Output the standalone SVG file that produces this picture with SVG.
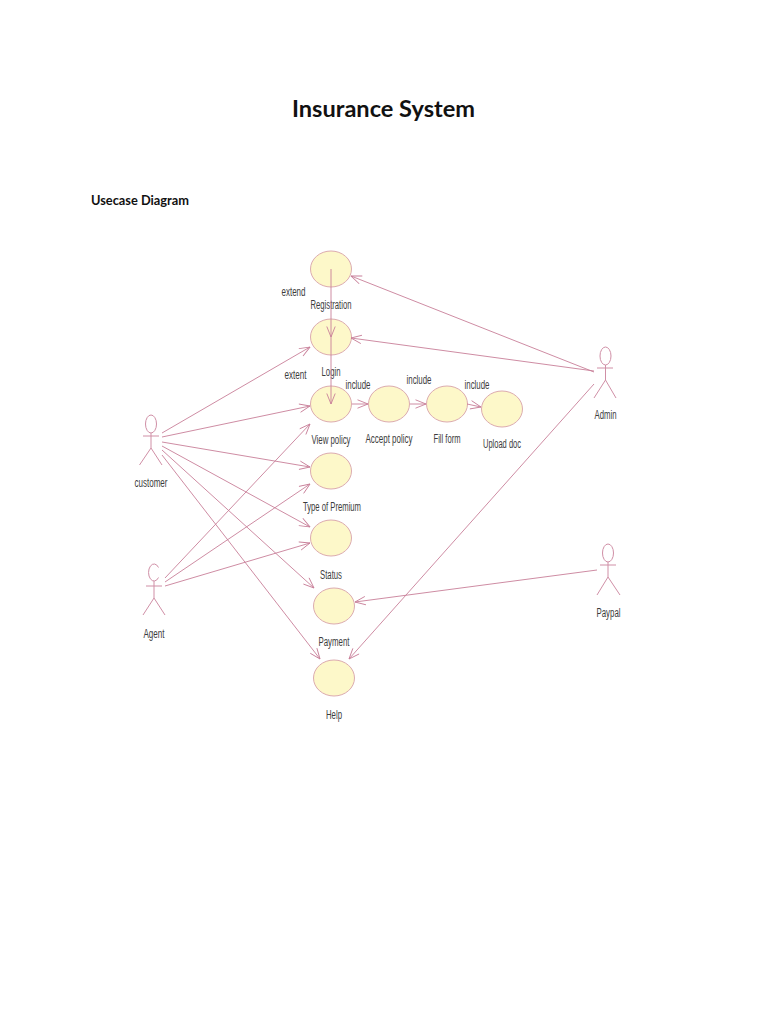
<svg xmlns="http://www.w3.org/2000/svg" width="768" height="1024" viewBox="0 0 768 1024">
<style>
.uc{fill:#fdf8c9;stroke:#dcabb0;stroke-width:1}
.c{fill:none;stroke:#c87f99;stroke-width:.9}
.a{fill:none;stroke:#d08fa6;stroke-width:1}
.l{font-family:"Liberation Sans",Arial,sans-serif;font-size:12px;fill:#3c3c3c;text-anchor:middle}
.h{font-family:Lato,"Noto Sans",sans-serif;font-weight:700;fill:#111}
</style>
<defs>
<marker id="o" viewBox="0 0 12 10" refX="11.5" refY="5" markerWidth="12" markerHeight="10" markerUnits="userSpaceOnUse" orient="auto"><path d="M1 .8L11.500 5L1 9.200" fill="none" stroke="#c87f99" stroke-width=".9"/></marker>
</defs>
<rect width="768" height="1024" fill="#fff"/>
<text class="h" x="292" y="117" font-size="23" textLength="183" lengthAdjust="spacingAndGlyphs">Insurance System</text>
<text class="h" x="91" y="205" font-size="13" textLength="98" lengthAdjust="spacingAndGlyphs">Usecase Diagram</text>
<g id="registration"><ellipse class="uc" cx="331" cy="269" rx="20.500" ry="18"/><text class="l" x="331" y="309" textLength="41" lengthAdjust="spacingAndGlyphs">Registration</text></g>
<g id="login"><ellipse class="uc" cx="331" cy="337" rx="20.500" ry="18"/><text class="l" x="331" y="376" textLength="19" lengthAdjust="spacingAndGlyphs">Login</text></g>
<g id="view-policy"><ellipse class="uc" cx="331" cy="404" rx="20.500" ry="18"/><text class="l" x="331" y="444" textLength="39" lengthAdjust="spacingAndGlyphs">View policy</text></g>
<g id="accept-policy"><ellipse class="uc" cx="389" cy="404" rx="20.500" ry="18"/><text class="l" x="389" y="443" textLength="47" lengthAdjust="spacingAndGlyphs">Accept policy</text></g>
<g id="fill-form"><ellipse class="uc" cx="447" cy="404" rx="20.500" ry="18"/><text class="l" x="447" y="443" textLength="27" lengthAdjust="spacingAndGlyphs">Fill form</text></g>
<g id="upload-doc"><ellipse class="uc" cx="502" cy="409" rx="20.500" ry="18"/><text class="l" x="502" y="448" textLength="38" lengthAdjust="spacingAndGlyphs">Upload doc</text></g>
<g id="type-of-premium"><ellipse class="uc" cx="331" cy="471" rx="20.500" ry="18"/><text class="l" x="332" y="511" textLength="58" lengthAdjust="spacingAndGlyphs">Type of Premium</text></g>
<g id="status"><ellipse class="uc" cx="331" cy="538" rx="20.500" ry="18"/><text class="l" x="331" y="579" textLength="22" lengthAdjust="spacingAndGlyphs">Status</text></g>
<g id="payment"><ellipse class="uc" cx="334" cy="606" rx="20.500" ry="18"/><text class="l" x="334" y="646" textLength="31" lengthAdjust="spacingAndGlyphs">Payment</text></g>
<g id="help"><ellipse class="uc" cx="334" cy="678" rx="20.500" ry="18"/><text class="l" x="334" y="719" textLength="16" lengthAdjust="spacingAndGlyphs">Help</text></g>
<g id="customer" class="a"><ellipse cx="151" cy="424" rx="5.500" ry="9"/><path d="M143 436H159M151 433V448L139.500 465M151 448L162 465"/><text class="l" x="151" y="487" textLength="33" lengthAdjust="spacingAndGlyphs" stroke="none">customer</text></g>
<g id="agent" class="a"><path d="M158.500 567.500A5.500 8.500 0 1 0 158.500 577.500M146 586H162M154 581V598L143 615M154 598L165 615"/><text class="l" x="154" y="638" textLength="21" lengthAdjust="spacingAndGlyphs" stroke="none">Agent</text></g>
<g id="admin" class="a"><ellipse cx="605.500" cy="356" rx="5.500" ry="9"/><path d="M597 368H613M605.500 365V380L594 398M605.500 380L616 398"/><text class="l" x="605.500" y="419" textLength="22" lengthAdjust="spacingAndGlyphs" stroke="none">Admin</text></g>
<g id="paypal" class="a"><ellipse cx="608" cy="553" rx="5.500" ry="9"/><path d="M600 565H616M608 562V577L597 595M608 577L620 595"/><text class="l" x="608.500" y="617" textLength="24" lengthAdjust="spacingAndGlyphs" stroke="none">Paypal</text></g>
<g id="connectors">
<path class="c" marker-end="url(#o)" d="M162 433L310 347"/>
<path class="c" marker-end="url(#o)" d="M162 437L310 406"/>
<path class="c" marker-end="url(#o)" d="M162 442L310 467"/>
<path class="c" marker-end="url(#o)" d="M162 446L310 527"/>
<path class="c" marker-end="url(#o)" d="M162 450L314 588"/>
<path class="c" marker-end="url(#o)" d="M162 455L320 659"/>
<path class="c" marker-end="url(#o)" d="M165 578L310 424"/>
<path class="c" marker-end="url(#o)" d="M165 582L310 484"/>
<path class="c" marker-end="url(#o)" d="M165 586L310 543"/>
<path class="c" marker-end="url(#o)" d="M594 372L351 276"/>
<path class="c" marker-end="url(#o)" d="M594 371L351 338"/>
<path class="c" marker-end="url(#o)" d="M594 384L349 659"/>
<path class="c" marker-end="url(#o)" d="M597 570L355 602"/>
<path class="c" marker-end="url(#o)" d="M331 269V337"/>
<path class="c" marker-end="url(#o)" d="M331 337V404"/>
<path class="c" marker-end="url(#o)" d="M352 404H368"/>
<path class="c" marker-end="url(#o)" d="M410 404H426"/>
<path class="c" marker-end="url(#o)" d="M467 404L481 407"/>
</g>
<g id="connector-labels">
<text class="l" x="293.500" y="296" textLength="24" lengthAdjust="spacingAndGlyphs">extend</text>
<text class="l" x="295.500" y="379" textLength="22" lengthAdjust="spacingAndGlyphs">extent</text>
<text class="l" x="358" y="389" textLength="25" lengthAdjust="spacingAndGlyphs">include</text>
<text class="l" x="419" y="384" textLength="25" lengthAdjust="spacingAndGlyphs">include</text>
<text class="l" x="477" y="389" textLength="25" lengthAdjust="spacingAndGlyphs">include</text>
</g>
</svg>
